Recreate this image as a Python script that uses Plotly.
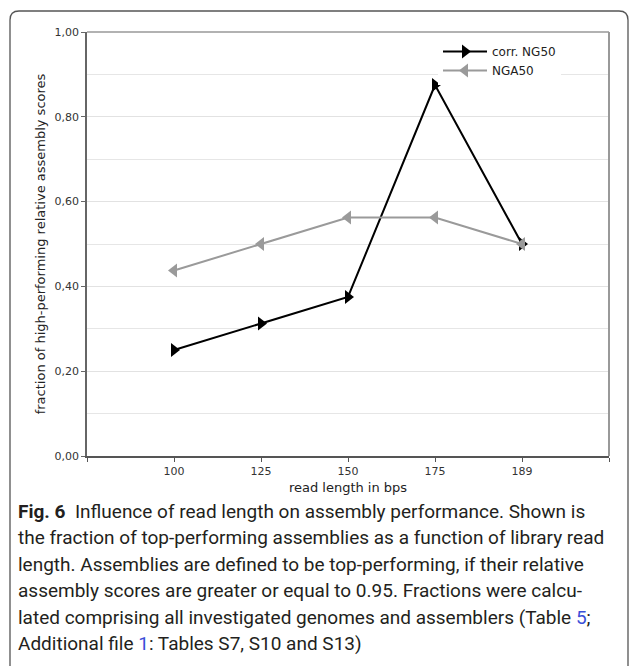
import plotly.graph_objects as go

# ---- data ----
read_lengths = ["100", "125", "150", "175", "189"]
corr_ng50 = [0.25, 0.3125, 0.375, 0.875, 0.5]
nga50 = [0.4375, 0.5, 0.5625, 0.5625, 0.5]
y_tick_vals = [0.0, 0.2, 0.4, 0.6, 0.8, 1.0]
y_tick_text = ["0,00", "0,20", "0,40", "0,60", "0,80", "1,00"]

xpos = list(range(len(read_lengths)))

W, H = 629, 668
L, R, T, B = 87, 20, 32, 212
pw, ph = W - L - R, H - T - B

def px(x):
    return (x - L) / pw

def py(y):
    return (H - B - y) / ph

fig = go.Figure()
fig.add_trace(go.Scatter(
    x=xpos, y=corr_ng50, name="corr. NG50", mode="lines+markers",
    line=dict(color="#000000", width=2),
    marker=dict(symbol="triangle-right", size=12, color="#000000"),
))
fig.add_trace(go.Scatter(
    x=xpos, y=nga50, name="NGA50", mode="lines+markers",
    line=dict(color="#9a9a9a", width=2),
    marker=dict(symbol="triangle-left", size=12, color="#9a9a9a"),
))

x_tickvals = [-1] + xpos + [len(xpos)]
x_ticktext = [""] + read_lengths + [""]

font_axis = "DejaVu Sans"
fig.update_layout(
    width=W, height=H,
    margin=dict(l=L, r=R, t=T, b=B, pad=0),
    paper_bgcolor="white", plot_bgcolor="white",
    font=dict(family=font_axis, size=11, color="#333333"),
    showlegend=True,
    legend=dict(
        x=px(438), y=py(37), xanchor="left", yanchor="top",
        bgcolor="white", borderwidth=0,
        font=dict(family=font_axis, size=12, color="#222222"),
        tracegroupgap=0, itemwidth=44,
    ),
    xaxis=dict(
        range=[-1, len(xpos)], tickvals=x_tickvals, ticktext=x_ticktext,
        showgrid=False, zeroline=False,
        showline=True, linecolor="#555555", linewidth=1.5,
        ticks="outside", ticklen=4, tickcolor="#555555", tickwidth=1,
        tickfont=dict(size=11, color="#333333"),
        title=dict(text="read length in bps", font=dict(size=13, color="#222222"), standoff=6),
    ),
    yaxis=dict(
        range=[0, 1], tickvals=y_tick_vals, ticktext=y_tick_text,
        showgrid=True, gridcolor="#e2e2e2", gridwidth=1,
        minor=dict(dtick=0.1, tick0=0, showgrid=True, gridcolor="#e6e6e6", gridwidth=1, ticks=""),
        zeroline=False,
        showline=True, linecolor="#666666", linewidth=1.5,
        ticks="outside", ticklen=4, tickcolor="#666666", tickwidth=1,
        tickfont=dict(size=11, color="#333333"),
        title=dict(text="fraction of high-performing relative assembly scores",
                   font=dict(size=13, color="#222222"), standoff=6),
    ),
)

# top and right frame lines
fig.add_shape(type="line", xref="paper", yref="paper", x0=0, x1=1, y0=1, y1=1,
              line=dict(color="#999999", width=1.5), layer="above")
fig.add_shape(type="line", xref="paper", yref="paper", x0=1, x1=1, y0=0, y1=1,
              line=dict(color="#999999", width=2), layer="above")

# outer rounded box (open at bottom edge of the image)
x0, x1 = px(10), px(628)
y0, yb = py(11), py(666)
rx, ry = 9 / pw, 9 / ph
path = (f"M {x0} {yb} L {x0} {y0 - ry} Q {x0} {y0} {x0 + rx} {y0} "
        f"L {x1 - rx} {y0} Q {x1} {y0} {x1} {y0 - ry} L {x1} {yb}")
fig.add_shape(type="path", xref="paper", yref="paper", path=path,
              line=dict(color="#555555", width=1.3), layer="above")

blue = "#3a4fd8"
caption_lines = [
    "<b>Fig. 6</b>  Influence of read length on assembly performance. Shown is",
    "the fraction of top-performing assemblies as a function of library read",
    "length. Assemblies are defined to be top-performing, if their relative",
    "assembly scores are greater or equal to 0.95. Fractions were calcu-",
    f"lated comprising all investigated genomes and assemblers (Table <span style='color:{blue}'>5</span>;",
    f"Additional file <span style='color:{blue}'>1</span>: Tables S7, S10 and S13)",
]
for i, line in enumerate(caption_lines):
    fig.add_annotation(
        x=px(16), y=py(511 + 26.5 * i), xref="paper", yref="paper",
        xanchor="left", yanchor="middle", align="left", showarrow=False,
        text=line,
        font=dict(family="Roboto", size=19, color="#231f20"),
    )

fig.write_html("out.html")
